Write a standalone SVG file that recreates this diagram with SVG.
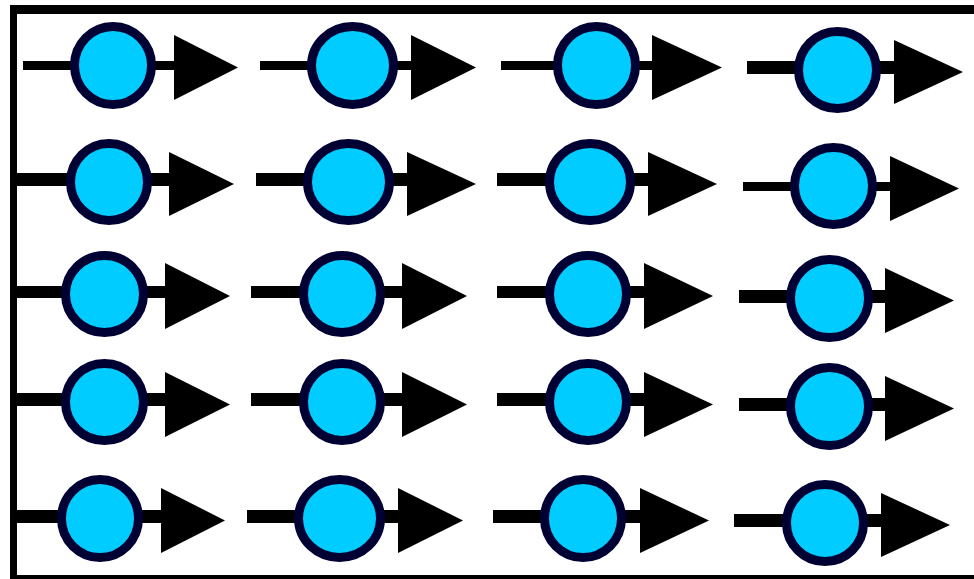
<svg xmlns="http://www.w3.org/2000/svg" width="974" height="579" viewBox="0 0 974 579">
<style>
.n{fill:#00CCFF;stroke:#000033;stroke-width:9}
.l{stroke:#000;fill:none}
.t{fill:#000}
.f{fill:#000}
</style>
<rect width="974" height="579" fill="#fff"/>
<g id="frame">
<rect class="f" x="10" y="5" width="964" height="9"/>
<rect class="f" x="10" y="5" width="7" height="574"/>
<rect class="f" x="10" y="575" width="964" height="4"/>
</g>
<g id="connectors">
<line class="l" x1="23" y1="65.5" x2="176" y2="65.5" stroke-width="9"/>
<line class="l" x1="260" y1="65.5" x2="413" y2="65.5" stroke-width="9"/>
<line class="l" x1="501" y1="65.5" x2="654" y2="65.5" stroke-width="9"/>
<line class="l" x1="747" y1="67.5" x2="896" y2="67.5" stroke-width="13"/>
<line class="l" x1="17" y1="179.5" x2="171" y2="179.5" stroke-width="13"/>
<line class="l" x1="256" y1="179.5" x2="409" y2="179.5" stroke-width="13"/>
<line class="l" x1="497" y1="179.5" x2="650" y2="179.5" stroke-width="13"/>
<line class="l" x1="743" y1="186.5" x2="892" y2="186.5" stroke-width="9"/>
<line class="l" x1="17" y1="292" x2="167" y2="292" stroke-width="12"/>
<line class="l" x1="251" y1="292" x2="404" y2="292" stroke-width="12"/>
<line class="l" x1="497" y1="292" x2="646" y2="292" stroke-width="12"/>
<line class="l" x1="739" y1="296.5" x2="887" y2="296.5" stroke-width="13"/>
<line class="l" x1="17" y1="399.5" x2="167" y2="399.5" stroke-width="13"/>
<line class="l" x1="251" y1="399.5" x2="404" y2="399.5" stroke-width="13"/>
<line class="l" x1="497" y1="399.5" x2="646" y2="399.5" stroke-width="13"/>
<line class="l" x1="739" y1="404.5" x2="887" y2="404.5" stroke-width="13"/>
<line class="l" x1="17" y1="516.5" x2="163" y2="516.5" stroke-width="13"/>
<line class="l" x1="247" y1="516.5" x2="400" y2="516.5" stroke-width="13"/>
<line class="l" x1="493" y1="516.5" x2="642" y2="516.5" stroke-width="13"/>
<line class="l" x1="734" y1="520.5" x2="883" y2="520.5" stroke-width="13"/>
<polygon class="t" points="174,35 238,67.5 174,100"/>
<polygon class="t" points="411,35 476,67.5 411,100"/>
<polygon class="t" points="652,35 722,67.5 652,100"/>
<polygon class="t" points="894,40 963,72 894,104"/>
<polygon class="t" points="169,152 234,184 169,216"/>
<polygon class="t" points="407,152 476,184 407,216"/>
<polygon class="t" points="648,152 717,184 648,216"/>
<polygon class="t" points="890,156 959,188.5 890,221"/>
<polygon class="t" points="165,263 230,296 165,329"/>
<polygon class="t" points="402,263 467,296 402,329"/>
<polygon class="t" points="644,263 713,296 644,329"/>
<polygon class="t" points="885,268 954,300.5 885,333"/>
<polygon class="t" points="165,372 230,404.5 165,437"/>
<polygon class="t" points="402,372 467,404.5 402,437"/>
<polygon class="t" points="644,372 713,404.5 644,437"/>
<polygon class="t" points="885,376 954,408.5 885,441"/>
<polygon class="t" points="161,488 225,520.5 161,553"/>
<polygon class="t" points="398,488 463,520.5 398,553"/>
<polygon class="t" points="640,488 709,520.5 640,553"/>
<polygon class="t" points="881,493 950,525 881,557"/>
</g>
<g id="n11"><ellipse class="n" cx="113" cy="65.5" rx="38.5" ry="39"/></g>
<g id="n12"><ellipse class="n" cx="352.5" cy="65.5" rx="41" ry="39"/></g>
<g id="n13"><ellipse class="n" cx="596.5" cy="65.5" rx="39" ry="39"/></g>
<g id="n14"><ellipse class="n" cx="837.5" cy="70" rx="39" ry="38.5"/></g>
<g id="n21"><ellipse class="n" cx="109" cy="182" rx="38.5" ry="38.5"/></g>
<g id="n22"><ellipse class="n" cx="348.5" cy="182" rx="41" ry="38.5"/></g>
<g id="n23"><ellipse class="n" cx="590" cy="182" rx="40.5" ry="38.5"/></g>
<g id="n24"><ellipse class="n" cx="833.5" cy="186" rx="39" ry="38.5"/></g>
<g id="n31"><ellipse class="n" cx="104.5" cy="294" rx="39" ry="38.5"/></g>
<g id="n32"><ellipse class="n" cx="342" cy="294" rx="38.5" ry="38.5"/></g>
<g id="n33"><ellipse class="n" cx="588" cy="294" rx="38.5" ry="38.5"/></g>
<g id="n34"><ellipse class="n" cx="829.5" cy="298.5" rx="39" ry="39"/></g>
<g id="n41"><ellipse class="n" cx="104.5" cy="402" rx="39" ry="38.5"/></g>
<g id="n42"><ellipse class="n" cx="342" cy="402" rx="38.5" ry="38.5"/></g>
<g id="n43"><ellipse class="n" cx="588" cy="402" rx="38.5" ry="38.5"/></g>
<g id="n44"><ellipse class="n" cx="829.5" cy="406.5" rx="39" ry="39"/></g>
<g id="n51"><ellipse class="n" cx="100" cy="518.5" rx="38.5" ry="39"/></g>
<g id="n52"><ellipse class="n" cx="339.5" cy="518.5" rx="41" ry="39"/></g>
<g id="n53"><ellipse class="n" cx="583" cy="518.5" rx="38.5" ry="39"/></g>
<g id="n54"><ellipse class="n" cx="825" cy="523" rx="38.5" ry="38.5"/></g>
</svg>
